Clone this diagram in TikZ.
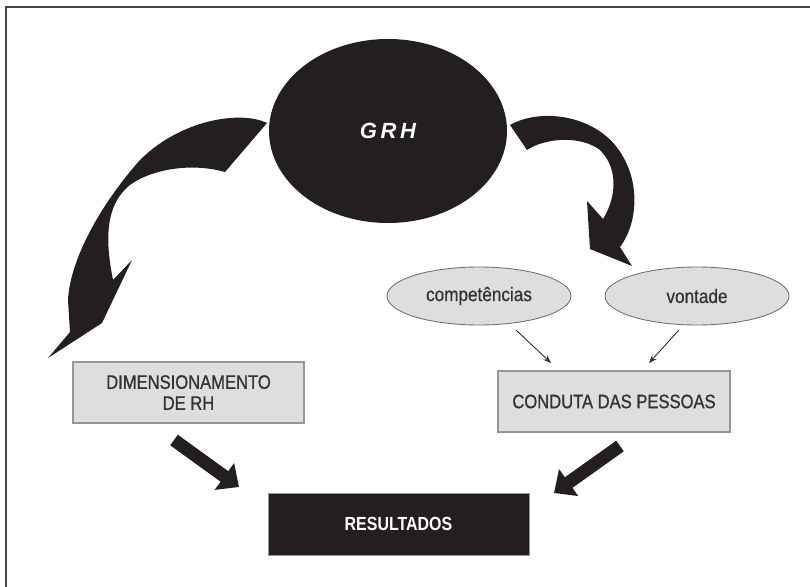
\documentclass[tikz,border=0pt]{standalone}
\usepackage{fontspec}
\setmainfont{Liberation Sans}
\newfontfamily\dinfont[FakeStretch=0.85,FakeBold=0.8]{Liberation Sans}
\newfontfamily\dinbold[FakeStretch=0.84]{Liberation Sans Bold}
\newfontfamily\ellfont[FakeStretch=0.88,FakeBold=0.6]{Liberation Sans}
\usetikzlibrary{shapes.geometric,arrows.meta}
\definecolor{ink}{RGB}{35,31,32}
\definecolor{boxfill}{RGB}{221,222,224}
\definecolor{boxline}{RGB}{150,150,150}
\definecolor{elline}{RGB}{115,115,115}
\definecolor{txt}{RGB}{50,50,50}
\definecolor{frame}{RGB}{70,70,70}
\tikzset{
  graybox/.style={draw=boxline, line width=1.5pt, fill=boxfill, inner sep=0pt, align=center,
    text=txt, font=\dinfont\fontsize{19.5}{21}\selectfont},
  smallell/.style={ellipse, draw=elline, line width=0.9pt, fill=boxfill, inner sep=0pt,
    minimum width=184pt, minimum height=58pt, text=txt, font=\ellfont\fontsize{19.5}{20}\selectfont},
  thinarrow/.style={draw=txt, line width=0.9pt, -{Stealth[length=8pt,width=6pt]}},
  thickarrow/.style={draw=ink, line width=13pt, -{Triangle[length=18pt,width=32pt]}},
  bigcurve/.style={fill=ink, draw=none}
}
\begin{document}
\begin{tikzpicture}[x=1pt,y=-1pt]
\useasboundingbox (0,0) rectangle (810,586);
\fill[white] (0,0) rectangle (810,586);
% frame
\draw[frame, line width=1.6pt] (6,600) -- (6,7) -- (820,7);

% curved arrow, left
\path[bigcurve] (267,123) .. controls (240,110) and (180,120) .. (140,160)
  .. controls (100,205) and (70,260) .. (68,300) -- (70,332) -- (48,358) -- (102,323)
  -- (132,260) -- (113,280)
  .. controls (105,240) and (105,205) .. (130,185)
  .. controls (150,170) and (190,162) .. (225,172) -- cycle;
% curved arrow, right
\path[bigcurve] (510,125) .. controls (540,108) and (590,115) .. (615,145)
  .. controls (640,175) and (640,220) .. (620,247) -- (632,266) -- (590,249)
  -- (587,201) -- (603,219)
  .. controls (615,200) and (620,170) .. (600,150)
  .. controls (580,135) and (545,138) .. (527,150) -- cycle;

% nodes
\node[ellipse, fill=ink, minimum width=238pt, minimum height=184pt, inner sep=0pt,
  text=white, font=\bfseries\itshape\fontsize{22}{22}\selectfont] (grh) at (388,131) {G\,R\,H};
\node[smallell] (comp) at (479,296) {competências};
\node[smallell] (vont) at (697,296) {vontade};
\node[graybox, minimum width=231pt, minimum height=61pt] (dim) at (188.5,392.5) {DIMENSIONAMENTO\\DE RH};
\node[graybox, minimum width=232pt, minimum height=61pt] (cond) at (614,401.5) {CONDUTA DAS PESSOAS};
\node[fill=ink, draw=boxline, line width=0.8pt, minimum width=261pt, minimum height=62pt, inner sep=0pt,
  text=white, font=\dinbold\fontsize{19}{20}\selectfont] (res) at (398.5,524) {RESULTADOS};

% thin arrows
\coordinate (c1) at (516,330);
\coordinate (c2) at (551,363);
\coordinate (v1) at (679,330);
\coordinate (v2) at (649,363);
\draw[thinarrow] (c1) -- (c2);
\draw[thinarrow] (v1) -- (v2);

% thick arrows
\coordinate (d1) at (174,440);
\coordinate (d2) at (239,487);
\coordinate (p1) at (620,446);
\coordinate (p2) at (554,493);
\draw[thickarrow] (d1) -- (d2);
\draw[thickarrow] (p1) -- (p2);
\end{tikzpicture}
\end{document}
